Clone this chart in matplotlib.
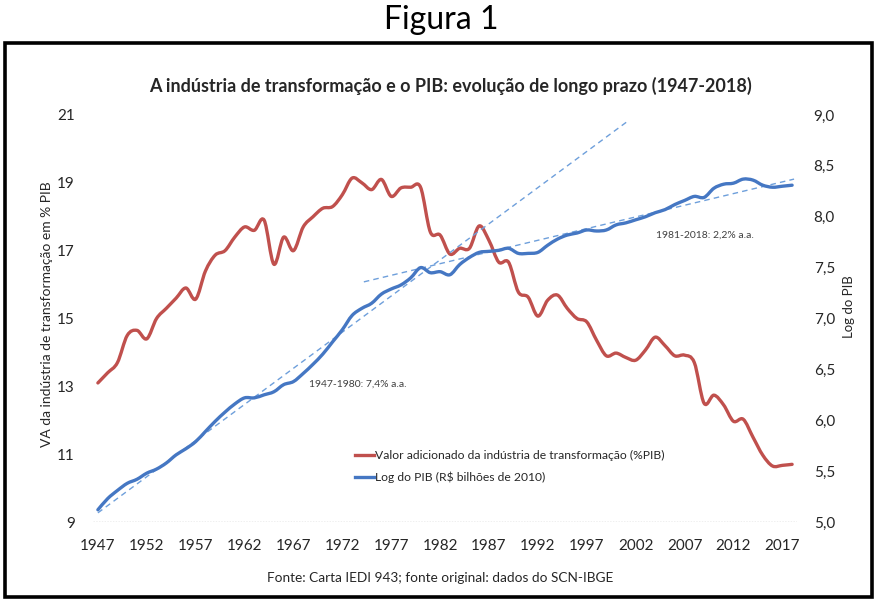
import numpy as np
import matplotlib
matplotlib.use("Agg")
import matplotlib.pyplot as plt
from matplotlib.patches import Rectangle, PathPatch
from matplotlib.path import Path
from matplotlib.lines import Line2D

plt.rcParams['font.family'] = ['Lato', 'DejaVu Sans']

# ---- data ----
years = list(range(1947, 2019))

va_industria = [13.1, 13.4, 13.7, 14.5, 14.65, 14.4, 15.0, 15.3, 15.6, 15.9, 15.57,
                16.4, 16.87, 17.0, 17.4, 17.7, 17.6, 17.9, 16.6, 17.4, 17.0, 17.7,
                18.0, 18.25, 18.3, 18.65, 19.14, 19.0, 18.8, 19.1, 18.6, 18.85,
                18.87, 18.87, 17.55, 17.46, 16.9, 17.07, 17.07, 17.73, 17.3, 16.66,
                16.66, 15.78, 15.63, 15.07, 15.54, 15.69, 15.3, 15.0, 14.9, 14.36,
                13.9, 13.98, 13.85, 13.77, 14.07, 14.45, 14.2, 13.9, 13.92, 13.7,
                12.5, 12.74, 12.45, 11.97, 12.03, 11.5, 10.97, 10.65, 10.67, 10.7]

log_pib = [5.12, 5.23, 5.31, 5.38, 5.42, 5.48, 5.52, 5.58, 5.66, 5.72, 5.79,
           5.89, 5.99, 6.08, 6.16, 6.22, 6.22, 6.25, 6.28, 6.35, 6.38, 6.46,
           6.55, 6.65, 6.77, 6.89, 7.03, 7.10, 7.15, 7.24, 7.29, 7.33, 7.40,
           7.50, 7.45, 7.46, 7.43, 7.53, 7.60, 7.65, 7.66, 7.67, 7.69, 7.64,
           7.64, 7.65, 7.72, 7.78, 7.82, 7.84, 7.87, 7.86, 7.87, 7.92, 7.94,
           7.97, 8.00, 8.04, 8.07, 8.12, 8.16, 8.20, 8.19, 8.28, 8.32, 8.33,
           8.37, 8.36, 8.31, 8.29, 8.30, 8.31]

# trend lines: (start year, end year), (start value, end value)
trend1_x = [1947, 2001.2]
trend1_y = [5.09, 8.94]
trend2_x = [1974.2, 2018.2]
trend2_y = [7.36, 8.37]

xtick_years = list(range(1947, 2019, 5))
left_ticks = [9, 11, 13, 15, 17, 19, 21]
right_ticks = [5.0, 5.5, 6.0, 6.5, 7.0, 7.5, 8.0, 8.5, 9.0]

red = '#C0504D'
blue = '#4577C3'
trend_blue = '#6E9FDB'
txt = '#262626'


def smooth_path(x, y):
    # Excel-style smoothed line: Catmull-Rom segments drawn as cubic Beziers
    x = np.asarray(x, float)
    y = np.asarray(y, float)
    verts = [(x[0], y[0])]
    codes = [Path.MOVETO]
    n = len(x)
    for i in range(n - 1):
        x0, y0 = (x[i - 1], y[i - 1]) if i > 0 else (x[i], y[i])
        x3, y3 = (x[i + 2], y[i + 2]) if i + 2 < n else (x[i + 1], y[i + 1])
        c1 = (x[i] + (x[i + 1] - x0) / 6, y[i] + (y[i + 1] - y0) / 6)
        c2 = (x[i + 1] - (x3 - x[i]) / 6, y[i + 1] - (y3 - y[i]) / 6)
        verts += [c1, c2, (x[i + 1], y[i + 1])]
        codes += [Path.CURVE4] * 3
    return Path(verts, codes)


W, H = 882, 607
fig = plt.figure(figsize=(W / 100, H / 100), dpi=100)
fig.patch.set_facecolor('white')

# faint dotted background pattern + frame
gx, gy = np.meshgrid(np.arange(12, 870, 7), np.arange(50, 595, 7))
bg = fig.add_axes([0, 0, 1, 1], zorder=-5)
bg.set_xlim(0, W)
bg.set_ylim(H, 0)
bg.axis('off')
bg.scatter(gx.ravel(), gy.ravel(), s=0.5, color='#e4f4e0', marker='s', linewidths=0)
bg.add_patch(Rectangle((5, 43), 867, 554, fill=False, edgecolor='black', lw=2.6))

ax = fig.add_axes([93 / W, 1 - 522 / H, (797 - 93) / W, (522 - 115) / H])
ax.patch.set_alpha(0)
ax2 = ax.twinx()

ax2.plot(trend1_x, trend1_y, color=trend_blue, lw=1.0, ls=(0, (4, 3)), zorder=3)
ax2.plot(trend2_x, trend2_y, color=trend_blue, lw=1.0, ls=(0, (4, 3)), zorder=3)
ax2.add_patch(PathPatch(smooth_path(years, log_pib), fill=False, edgecolor=blue,
                        lw=2.4, capstyle='round', joinstyle='round', zorder=4))
ax.add_patch(PathPatch(smooth_path(years, va_industria), fill=False, edgecolor=red,
                       lw=2.4, capstyle='round', joinstyle='round', zorder=4))

ax.set_xlim(1946.5, 2018.5)
ax.set_ylim(9, 21)
ax2.set_ylim(5, 9)
ax.set_xticks(xtick_years)
ax.set_xticklabels([str(y) for y in xtick_years], fontsize=11, color=txt)
ax.set_yticks(left_ticks)
ax.set_yticklabels([str(v) for v in left_ticks], fontsize=11, color=txt)
ax2.set_yticks(right_ticks)
ax2.set_yticklabels([f'{v:.1f}'.replace('.', ',') for v in right_ticks],
                    fontsize=11, color=txt)
for a in (ax, ax2):
    for s in a.spines.values():
        s.set_visible(False)
    a.tick_params(length=0)
ax.tick_params(axis='x', pad=12)
ax.tick_params(axis='y', pad=13)
ax2.tick_params(axis='y', pad=12)
ax.axhline(9, color='#b0b0b0', lw=1.0, ls=(0, (1, 1)), zorder=1)

ax.set_ylabel('VA da indústria de transformação em % PIB', fontsize=10, color=txt)
ax2.set_ylabel('Log do PIB', fontsize=9.5, color=txt)
ax2.yaxis.set_label_coords(1.065, 0.53)
ax.yaxis.set_label_coords(-0.057, 0.51)

ax2.text(1968.6, 6.35, '1947-1980: 7,4% a.a.', fontsize=7.5, color='#404040',
         va='center')
ax2.text(2004.1, 7.82, '1981-2018: 2,2% a.a.', fontsize=7.5, color='#404040',
         va='center')

handles = [Line2D([], [], color=red, lw=2.4), Line2D([], [], color=blue, lw=2.4)]
labels = ['Valor adicionado da indústria de transformação (%PIB)',
          'Log do PIB (R$ bilhões de 2010)']
ax.legend(handles, labels, loc='upper left', bbox_to_anchor=(0.365, 0.188),
          frameon=False, fontsize=8.7, handlelength=1.6, handletextpad=0.1,
          labelspacing=0.85, labelcolor=txt, borderaxespad=0)

fig.text(0.5, 1 - 20 / H, 'Figura 1', ha='center', va='center', fontsize=23)
fig.text(450 / W, 1 - 86 / H,
         'A indústria de transformação e o PIB: evolução de longo prazo (1947-2018)',
         ha='center', va='center', fontsize=13, fontweight='bold', color=txt)
fig.text(440 / W, 1 - 578 / H,
         'Fonte: Carta IEDI 943; fonte original: dados do SCN-IBGE',
         ha='center', va='center', fontsize=9.8, color=txt)

fig.savefig('out.png', dpi=100)
